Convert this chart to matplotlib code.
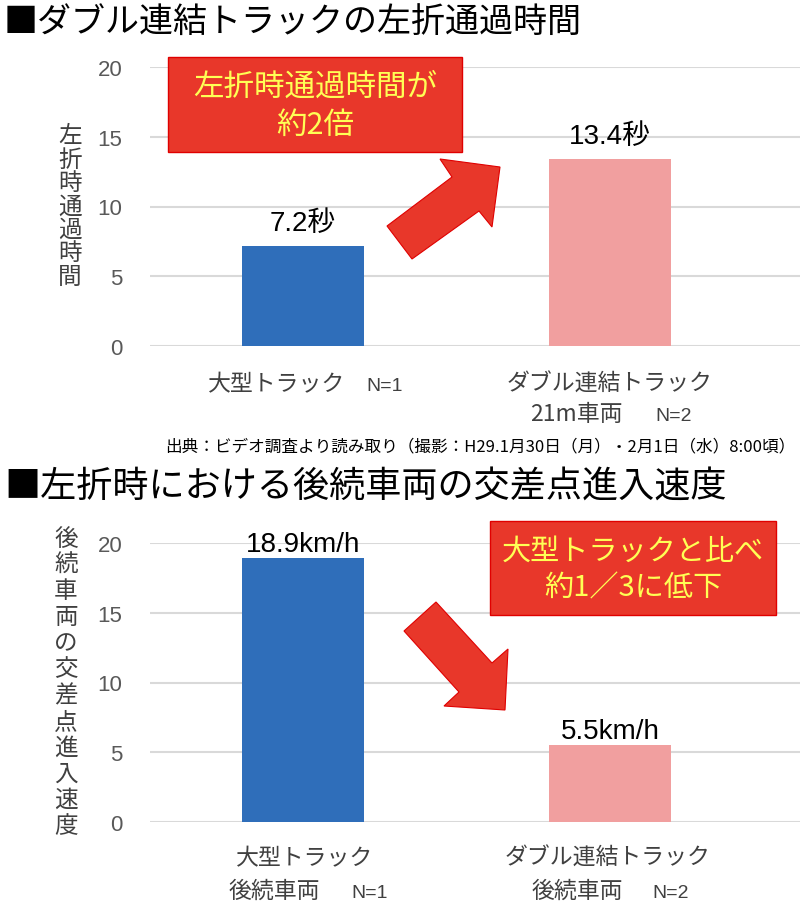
import matplotlib.pyplot as plt
from matplotlib.patches import Rectangle, Polygon

plt.rcParams['font.family'] = ['Noto Sans CJK JP', 'DejaVu Sans']

# data
cats = [0, 1]
time_vals = [7.2, 13.4]
time_labels = ['7.2秒', '13.4秒']
speed_vals = [18.9, 5.5]
speed_labels = ['18.9km/h', '5.5km/h']
yticks = [0, 5, 10, 15, 20]
bar_colors = ['#2F6EBA', '#F19F9F']

W, H = 800, 912
fig = plt.figure(figsize=(W / 100, H / 100), dpi=100)

LATIN = ['Liberation Sans', 'Noto Sans CJK JP']
GREY = '#404040'


def fx(px):
    return px / W


def fy(py):
    return 1 - py / H


def make_axes(y_top, y_bot):
    ax = fig.add_axes([fx(150), fy(y_bot), 1 - fx(150), fy(y_top) - fy(y_bot)])
    ax.set_xlim(-0.498, 1.619)
    ax.set_ylim(0, 20)
    ax.set_yticks(yticks)
    ax.set_yticklabels([str(t) for t in yticks], fontsize=16, color='#595959',
                       family=LATIN)
    ax.tick_params(axis='y', length=0, pad=20)
    ax.set_xticks([])
    for s in ax.spines.values():
        s.set_visible(False)
    ax.grid(axis='y', color='#D9D9D9', linewidth=1.5)
    ax.set_axisbelow(True)
    return ax


def cat_label(x, y, txt, n):
    # japanese part + smaller "N=.." on one baseline
    if txt:
        fig.text(fx(x[0]), fy(y), txt, ha='center', va='baseline', fontsize=16.5, color=GREY)
    if n:
        fig.text(fx(x[1]), fy(y), n, ha='center', va='baseline', fontsize=14, color=GREY,
                 family=LATIN)


# ---- top chart
fig.text(fx(4), fy(22), '■ダブル連結トラックの左折通過時間', fontsize=24.5, va='center', ha='left')
ax1 = make_axes(68, 347)
ax1.bar(cats, time_vals, width=0.397, color=bar_colors)
for c, v, lab in zip(cats, time_vals, time_labels):
    ax1.text(c, v + 0.7, lab, ha='center', va='bottom', fontsize=20, family=LATIN)
fig.text(fx(70), fy(207), '\n'.join('左折時通過時間'), ha='center', va='center',
         fontsize=17, color=GREY, linespacing=1.02)

cat_label((277, 385), 391, '大型トラック', 'N=1')
cat_label((610, None), 391, 'ダブル連結トラック', None)
cat_label((576, 674), 421, '21m車両', 'N=2')
fig.text(fx(795), fy(447), '出典：ビデオ調査より読み取り（撮影：H29.1月30日（月）・2月1日（水）8:00頃）',
         ha='right', va='center', fontsize=12)

# ---- bottom chart
fig.text(fx(4), fy(487), '■左折時における後続車両の交差点進入速度', fontsize=26, va='center', ha='left')
ax2 = make_axes(544, 823)
ax2.bar(cats, speed_vals, width=0.397, color=bar_colors)
for c, v, lab in zip(cats, speed_vals, speed_labels):
    ax2.text(c, v + 0.1, lab, ha='center', va='bottom', fontsize=20, family=LATIN)
fig.text(fx(66), fy(683), '\n'.join('後続車両の交差点進入速度'), ha='center', va='center',
         fontsize=17, color=GREY, linespacing=1.17)

cat_label((305, None), 865, '大型トラック', None)
cat_label((274, 370), 898, '後続車両', 'N=1')
cat_label((608, None), 865, 'ダブル連結トラック', None)
cat_label((577, 671), 898, '後続車両', 'N=2')

# ---- callouts and arrows
red = '#E8372A'
for (x0, y0, x1, y1), txt, fs in [((168, 58, 462, 153), '左折時通過時間が\n約2倍', 22),
                                   ((490, 522, 776, 616), '大型トラックと比べ\n約1／3に低下', 21)]:
    fig.patches.append(Rectangle((fx(x0), fy(y1)), fx(x1 - x0), fy(y0) - fy(y1),
                                 transform=fig.transFigure, facecolor=red,
                                 edgecolor='#E00000', linewidth=1))
    fig.text(fx((x0 + x1) / 2), fy((y0 + y1) / 2 + 1), txt, ha='center', va='center',
             fontsize=fs, color='#FFFF55', linespacing=1.32)

arrow_up = [(387, 227), (452, 178), (440, 160), (500, 168), (492, 228), (479, 212), (412, 260)]
arrow_dn = [(436, 603), (492, 664), (508, 650), (505, 711), (444, 707), (459, 693), (404, 632)]
for pts in (arrow_up, arrow_dn):
    fig.patches.append(Polygon([(fx(x), fy(y)) for x, y in pts], closed=True,
                               transform=fig.transFigure, facecolor=red,
                               edgecolor='#E00000', linewidth=0.8))

# page number, cut off at the bottom edge as in the slide
fig.text(fx(776), fy(926), '15', fontsize=14, fontweight='bold', va='baseline', ha='left')

fig.savefig('out.png', dpi=100)
